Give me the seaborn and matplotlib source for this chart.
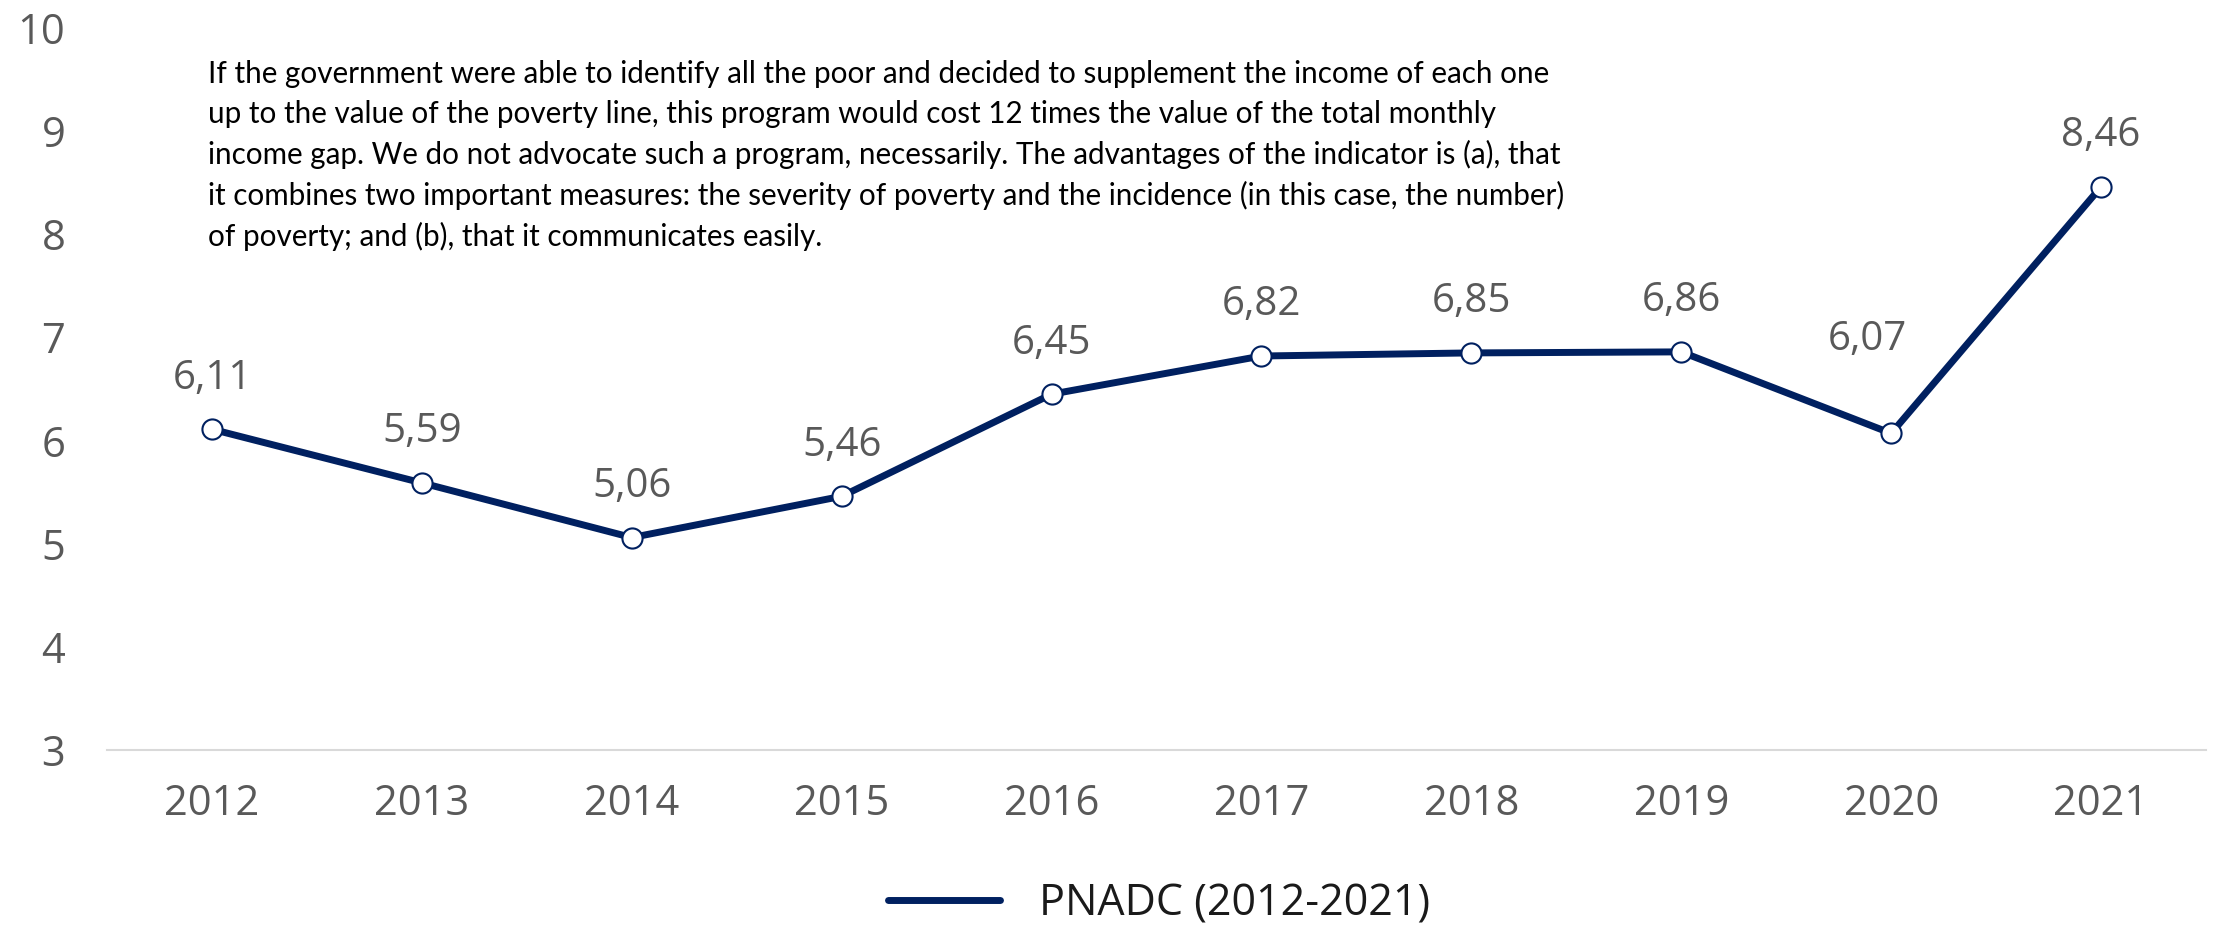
import matplotlib
matplotlib.use("Agg")
import matplotlib.pyplot as plt
from matplotlib.lines import Line2D
import seaborn as sns
import pandas as pd

years = ["2012", "2013", "2014", "2015", "2016", "2017", "2018", "2019", "2020", "2021"]
values = [6.11, 5.59, 5.06, 5.46, 6.45, 6.82, 6.85, 6.86, 6.07, 8.46]
series_name = "PNADC (2012-2021)"
note = ("If the government were able to identify all the poor and decided to supplement the income of each one\n"
        "up to the value of the poverty line, this program would cost 12 times the value of the total monthly\n"
        "income gap. We do not advocate such a program, necessarily. The advantages of the indicator is (a), that\n"
        "it combines two important measures: the severity of poverty and the incidence (in this case, the number)\n"
        "of poverty; and (b), that it communicates easily.")

navy = "#002060"
gray = "#595959"

# label nudges (points) where the original placed a label off the default spot
label_nudge = {"2020": (-17, 31)}

sns.set_style("white")
plt.rcParams["font.family"] = ["Open Sans", "DejaVu Sans"]

df = pd.DataFrame({"year": years, "value": values})

fig = plt.figure(figsize=(22.16, 9.26), dpi=100)
ax = fig.add_axes([0.0483, 0.19, 0.9472, 0.7798])

sns.lineplot(data=df, x="year", y="value", ax=ax, color=navy, linewidth=5,
             marker="o", markersize=14.5, markerfacecolor="white",
             markeredgecolor=navy, markeredgewidth=1.5, sort=False)

for i, (yr, v) in enumerate(zip(years, values)):
    dx, dy = label_nudge.get(yr, (0, 0))
    ax.annotate(f"{v:.2f}".replace(".", ","), (i, v), xytext=(dx, 22 + dy),
                textcoords="offset points", ha="center", va="bottom",
                fontsize=29, color=gray)

ax.set_xlim(-0.5, len(years) - 0.5)
ax.set_ylim(3, 10)
ax.set_yticks(range(3, 11))
ax.set_xlabel("")
ax.set_ylabel("")
ax.tick_params(axis="both", length=0, labelsize=30, labelcolor=gray)
ax.tick_params(axis="x", pad=24)
ax.tick_params(axis="y", pad=30)
for s in ["top", "right", "left"]:
    ax.spines[s].set_visible(False)
ax.spines["bottom"].set_color("#D9D9D9")
ax.spines["bottom"].set_linewidth(1.5)

ax.text(0.0483, 0.955, note, transform=ax.transAxes, ha="left", va="top",
        fontsize=21.3, family=["Lato", "DejaVu Sans"], color="black", linespacing=1.5)

handle = Line2D([], [], color=navy, linewidth=5)
fig.legend([handle], [series_name], loc="center", bbox_to_anchor=(0.523, 0.024),
           frameon=False, fontsize=31, handlelength=2.6, handletextpad=0.9,
           labelcolor="#1a1a1a")

fig.savefig("out.png", dpi=100)
